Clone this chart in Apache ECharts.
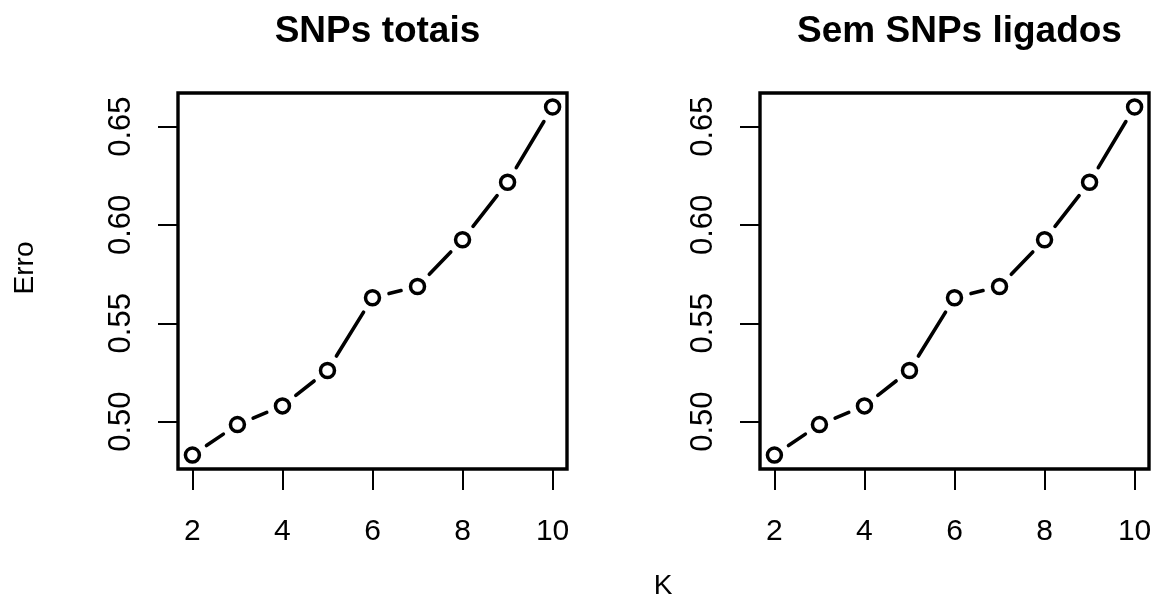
<!DOCTYPE html>
<html>
<head>
<meta charset="utf-8">
<script src="https://cdn.jsdelivr.net/npm/echarts@6/dist/echarts.min.js"></script>
<style>
  html, body { margin: 0; padding: 0; background: #fff; }
  #chart { width: 1173px; height: 605px; }
</style>
</head>
<body>
<div id="chart"></div>
<script>
// K values (x) and error values (y) for each panel
const kValues = [2, 3, 4, 5, 6, 7, 8, 9, 10];
const erroTotais = [0.483, 0.4985, 0.508, 0.526, 0.563, 0.5687, 0.5925, 0.6217, 0.660];
const erroLigados = [0.483, 0.4985, 0.508, 0.526, 0.563, 0.5687, 0.5925, 0.6217, 0.660];
const xTicks = [2, 4, 6, 8, 10];
const yTicks = [0.50, 0.55, 0.60, 0.65];
const panelTitles = ['SNPs totais', 'Sem SNPs ligados'];
const yName = 'Erro';
const xName = 'K';

const font = "'Liberation Sans', Arial, Helvetica, sans-serif";
const gap = 17; // gap around each point, like R type = "b"

// R style axis range: data range extended by 4% on each side
function rRange(arr) {
  const lo = Math.min(...arr), hi = Math.max(...arr);
  const d = (hi - lo) * 0.04;
  return [lo - d, hi + d];
}

function segments(xs, ys) {
  const out = [];
  for (let i = 0; i < xs.length - 1; i++) {
    out.push([xs[i], ys[i], xs[i + 1], ys[i + 1]]);
  }
  return out;
}

function renderSegment(params, api) {
  const p1 = api.coord([api.value(0), api.value(1)]);
  const p2 = api.coord([api.value(2), api.value(3)]);
  const dx = p2[0] - p1[0], dy = p2[1] - p1[1];
  const len = Math.sqrt(dx * dx + dy * dy);
  if (len <= 2 * gap) return;
  const ux = dx / len, uy = dy / len;
  return {
    type: 'line',
    shape: {
      x1: p1[0] + ux * gap, y1: p1[1] + uy * gap,
      x2: p2[0] - ux * gap, y2: p2[1] - uy * gap
    },
    style: { stroke: '#000', lineWidth: 3.6, lineCap: 'round' }
  };
}

const grids = [
  { left: 178, top: 93, width: 389, height: 376 },
  { left: 760, top: 93, width: 389, height: 376 }
];
const panels = [erroTotais, erroLigados];

const xr = rRange(kValues);

let option = {
  animation: false,
  backgroundColor: '#fff',
  title: panelTitles.map((t, i) => ({
    text: t,
    left: grids[i].left + grids[i].width / 2,
    top: 8,
    textAlign: 'center',
    textStyle: { fontFamily: font, fontWeight: 'bold', fontSize: 37, color: '#000' }
  })),
  grid: grids.map(g => Object.assign({
    show: true,
    borderColor: '#000',
    borderWidth: 3.4,
    backgroundColor: 'transparent',
    containLabel: false
  }, g)),
  xAxis: grids.map((g, i) => ({
    type: 'value',
    gridIndex: i,
    min: xr[0],
    max: xr[1],
    axisLine: { show: false },
    splitLine: { show: false },
    axisTick: {
      show: true,
      customValues: xTicks,
      length: 21,
      lineStyle: { color: '#000', width: 2 }
    },
    axisLabel: {
      customValues: xTicks,
      margin: 48,
      fontFamily: font,
      fontSize: 30,
      color: '#000'
    }
  })),
  yAxis: grids.map((g, i) => {
    const yr = rRange(panels[i]);
    return {
      type: 'value',
      gridIndex: i,
      min: yr[0],
      max: yr[1],
      axisLine: { show: false },
      splitLine: { show: false },
      axisTick: {
        show: true,
        customValues: yTicks,
        length: 20,
        lineStyle: { color: '#000', width: 2 }
      },
      axisLabel: {
        customValues: yTicks,
        rotate: 90,
        margin: 41,
        formatter: v => v.toFixed(2),
        fontFamily: font,
        fontSize: 31,
        color: '#000'
      }
    };
  }),
  graphic: [
    {
      type: 'text',
      x: 25, y: 268,
      rotation: Math.PI / 2,
      style: { text: yName, font: '28px ' + font, fill: '#000', align: 'center', verticalAlign: 'middle' }
    },
    {
      type: 'text',
      x: 663, y: 586,
      style: { text: xName, font: '28px ' + font, fill: '#000', align: 'center', verticalAlign: 'middle' }
    }
  ],
  series: []
};

panels.forEach((vals, i) => {
  option.series.push({
    type: 'custom',
    xAxisIndex: i,
    yAxisIndex: i,
    renderItem: renderSegment,
    encode: { x: [0, 2], y: [1, 3] },
    data: segments(kValues, vals),
    z: 2
  });
  option.series.push({
    type: 'scatter',
    xAxisIndex: i,
    yAxisIndex: i,
    data: kValues.map((k, j) => [k, vals[j]]),
    symbol: 'circle',
    symbolSize: 14,
    itemStyle: { color: '#fff', borderColor: '#000', borderWidth: 3.5, opacity: 1 },
    z: 3
  });
});

const myChart = echarts.init(document.getElementById('chart'));
option && myChart.setOption(option);
</script>
</body>
</html>
